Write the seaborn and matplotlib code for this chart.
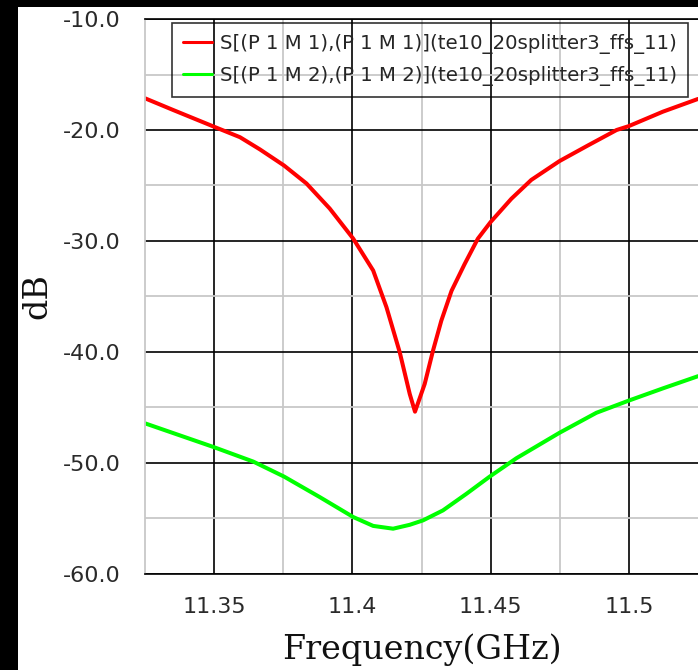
import matplotlib
matplotlib.use("Agg")
import matplotlib.pyplot as plt
import matplotlib.ticker as mticker
from matplotlib.patches import Rectangle
import pandas as pd
import seaborn as sns

# S11 trace
freq_s11 = [11.3251, 11.3353, 11.35, 11.3594, 11.3666, 11.3753, 11.3834, 11.3918,
            11.4003, 11.4075, 11.4123, 11.4171, 11.4207, 11.4226, 11.4261, 11.4291,
            11.4321, 11.4358, 11.4405, 11.4453, 11.4499, 11.4574, 11.4646, 11.4748,
            11.485, 11.4954, 11.4998, 11.5121, 11.5248]
db_s11 = [-17.14, -18.2, -19.7, -20.65, -21.75, -23.2, -24.82, -27.08,
          -29.8, -32.67, -35.98, -40.05, -43.8, -45.4, -42.9, -39.9,
          -37.2, -34.5, -32.1, -29.8, -28.3, -26.2, -24.5, -22.8,
          -21.4, -20.0, -19.65, -18.35, -17.2]

# S22 trace
freq_s22 = [11.3251, 11.35, 11.3642, 11.3753, 11.3882, 11.4003, 11.4075, 11.4147,
            11.4207, 11.4255, 11.4327, 11.4412, 11.4496, 11.4592, 11.4748, 11.4881,
            11.4998, 11.5121, 11.5248]
db_s22 = [-46.45, -48.6, -49.9, -51.25, -53.1, -54.9, -55.7, -55.95,
          -55.6, -55.2, -54.3, -52.8, -51.25, -49.6, -47.3, -45.5,
          -44.4, -43.3, -42.2]

label_s11 = "S[(P 1 M 1),(P 1 M 1)](te10_20splitter3_ffs_11)"
label_s22 = "S[(P 1 M 2),(P 1 M 2)](te10_20splitter3_ffs_11)"

x_ticks = [11.35, 11.4, 11.45, 11.5]
x_tick_labels = ["11.35", "11.4", "11.45", "11.5"]
y_ticks = [-60, -50, -40, -30, -20, -10]

sns.set_style("white")
plt.rcParams['font.family'] = ['DejaVu Sans']

df = pd.concat([
    pd.DataFrame({"freq": freq_s11, "db": db_s11, "trace": label_s11}),
    pd.DataFrame({"freq": freq_s22, "db": db_s22, "trace": label_s22}),
], ignore_index=True)

fig = plt.figure(figsize=(6.98, 6.7), dpi=100, facecolor="black")
fig.patches.append(Rectangle((18 / 698, 0), 1 - 18 / 698, 663 / 670,
                             transform=fig.transFigure, facecolor="white",
                             edgecolor="none", zorder=-1))
ax = fig.add_axes([145 / 698, 96.4 / 670, 553 / 698, 554.5 / 670])
ax.set_facecolor("white")

sns.lineplot(data=df, x="freq", y="db", hue="trace",
             palette=["#ff0000", "#00ff00"], linewidth=2.9,
             errorbar=None, ax=ax)

ax.set_xlim(11.3251, 11.5248)
ax.set_ylim(-60, -10)
ax.set_xticks(x_ticks)
ax.set_xticklabels(x_tick_labels)
ax.xaxis.set_minor_locator(mticker.MultipleLocator(0.025))
ax.set_yticks(y_ticks)
ax.yaxis.set_major_formatter(mticker.FormatStrFormatter("%.1f"))
ax.yaxis.set_minor_locator(mticker.MultipleLocator(5))

ax.set_axisbelow(True)
ax.grid(which="major", color="black", linewidth=1.2)
ax.grid(which="minor", color="#c8c8c8", linewidth=1.3)

for side in ["top", "bottom"]:
    ax.spines[side].set_color("black")
    ax.spines[side].set_linewidth(1.2)
ax.spines["left"].set_color("#c8c8c8")
ax.spines["left"].set_linewidth(1.3)
ax.spines["right"].set_visible(False)

ax.tick_params(axis="x", which="major", length=0, pad=17, labelsize=16,
               labelcolor="#2a2a2a")
ax.tick_params(axis="x", which="minor", length=5, width=1.3, color="#c8c8c8")
ax.tick_params(axis="y", which="major", length=1.5, width=1, color="#333333",
               pad=16, labelsize=16, labelcolor="#2a2a2a")
ax.tick_params(axis="y", which="minor", length=4, width=1.3, color="#c8c8c8")

ax.set_xlabel("Frequency(GHz)", fontfamily="DejaVu Serif", fontsize=24,
              va="center", color="#111111")
ax.xaxis.set_label_coords(0.5, -0.138)
ax.set_ylabel("dB", fontfamily="DejaVu Serif", fontsize=24,
              va="center", color="#111111")
ax.yaxis.set_label_coords(-0.195, 0.5)

handles, labels = ax.get_legend_handles_labels()
leg = ax.legend(handles, labels, loc="upper left",
                bbox_to_anchor=(27 / 553, 1 - 4 / 554.5), borderaxespad=0,
                fontsize=14.2, frameon=True, fancybox=False,
                facecolor="none", edgecolor="black", framealpha=None,
                handlelength=1.47, handletextpad=0.4, labelspacing=0.6,
                borderpad=0.55)
leg.get_frame().set_linewidth(1.2)
for line in leg.get_lines():
    line.set_linewidth(2.2)

fig.savefig("out.png", dpi=100, facecolor=fig.get_facecolor())
